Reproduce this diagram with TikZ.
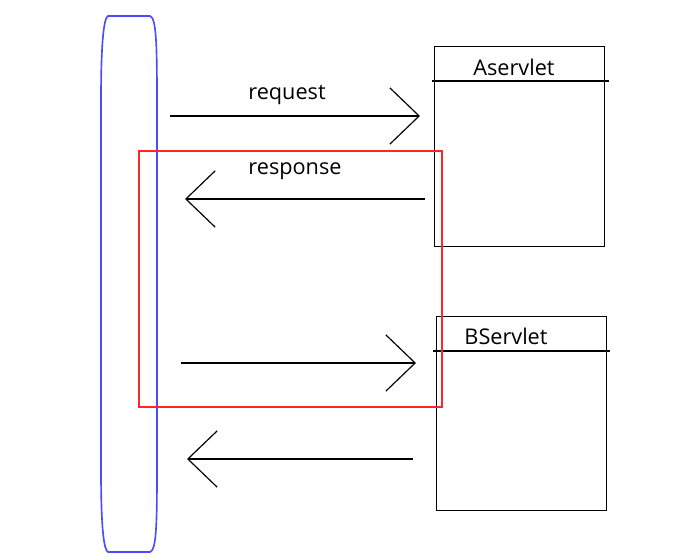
\documentclass[tikz,border=0pt]{standalone}
\usepackage{fontspec}
\setmainfont{Open Sans}
\usetikzlibrary{positioning,arrows.meta}

\begin{document}
\begin{tikzpicture}[
  x=0.03cm, y=-0.03cm,
  font=\fontsize{18.5}{21}\selectfont,
  servlet/.style={draw, line width=1.1pt, minimum width=170*0.03cm, inner sep=0pt,
    anchor=north west},
  msg/.style={line width=1pt, -{Straight Barb[length=25pt, width=48pt, line width=1pt]}},
  label/.style={inner sep=0pt},
  client/.style={draw=blue!70!white, line width=1.4pt},
  scopebox/.style={draw=red!85!white, line width=1pt}
]
\useasboundingbox (0,0) rectangle (698,558);

% client side
\draw[client] (108,16) -- (150,16) .. controls (156,18) and (157,40) .. (157,100)
  -- (157,470) .. controls (157,530) and (156,550) .. (150,552) -- (108,552)
  .. controls (104,550) and (101,530) .. (101,470) -- (101,100)
  .. controls (101,40) and (104,18) .. (108,16) -- cycle;

% servlets
\node[servlet, minimum height=200*0.03cm] (aservlet) at (434,46) {};
\draw[line width=1.1pt] (432,81) -- (609,81);
\node[label] (atitle) at (514,67) {Aservlet};

\node[servlet, minimum height=194*0.03cm] (bservlet) at (436,316) {};
\draw[line width=1.1pt] (433,351) -- (610,351);
\node[label] (btitle) at (506,336) {BServlet};

% forward scope
\draw[scopebox] (139,151) rectangle (442,407);

\coordinate (reqfrom) at (170,116);
\coordinate (reqto) at (420,116);
\coordinate (respfrom) at (425,199);
\coordinate (respto) at (185,199);
\coordinate (fwdfrom) at (181,363);
\coordinate (fwdto) at (416,363);
\coordinate (backfrom) at (413,459);
\coordinate (backto) at (187,459);

\draw[msg] (reqfrom) -- (reqto);
\node[label] (reqlabel) at (287,95) {request};
\draw[msg] (respfrom) -- (respto);
\node[label] (resplabel) at (295,171) {response};
\draw[msg] (fwdfrom) -- (fwdto);
\draw[msg] (backfrom) -- (backto);

\end{tikzpicture}
\end{document}
